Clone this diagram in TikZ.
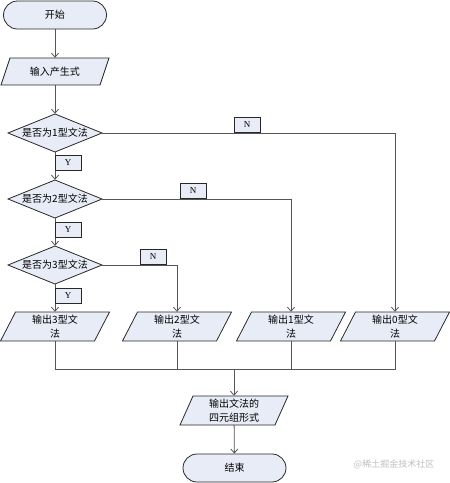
\documentclass[tikz,border=0pt]{standalone}
\usepackage{fontspec}
\setmainfont{Liberation Serif}
\newfontfamily\cjk{Noto Sans CJK SC}
\usetikzlibrary{arrows.meta}
\definecolor{boxfill}{RGB}{232,236,246}
\definecolor{lncol}{RGB}{85,85,85}
\definecolor{bdcol}{RGB}{40,40,40}
\tikzset{
  shapebox/.style={draw=bdcol, fill=boxfill, line width=0.8pt},
  txt/.style={inner sep=0pt, align=center, font=\cjk\fontsize{10}{14}\selectfont},
  term/.style={shapebox, minimum width=103pt, minimum height=28pt, rounded corners=14pt, inner sep=0pt, font=\cjk\fontsize{10}{14}\selectfont},
  ynbox/.style={draw=bdcol, fill=boxfill, line width=0.8pt, minimum width=26pt, minimum height=15pt, inner sep=0pt, font=\rmfamily\fontsize{9}{10}\selectfont},
  conn/.style={draw=lncol, line width=0.8pt},
  arr/.style={conn, -{Straight Barb[length=4pt,width=7pt]}},
  wmark/.style={font=\cjk\fontsize{9}{10}\selectfont, text=black!25, inner sep=0pt}
}
% #1 name, #2 cx, #3 cy, #4 edge width, #5 height, #6 slant, #7 text
\newcommand\parabox[7]{%
  \draw[shapebox] ({#2-#4/2+#6/2},{#3-#5/2}) -- ++(#4,0) -- ++(-#6,#5) -- ++(-#4,0) -- cycle;
  \node[txt, minimum width=#4pt, minimum height=#5pt] (#1) at (#2,#3) {#7};
}
% #1 name, #2 cx, #3 cy, #4 w, #5 h, #6 text
\newcommand\diabox[6]{%
  \draw[shapebox] ({#2-#4/2},#3) -- ({#2},{#3-#5/2}) -- ({#2+#4/2},#3) -- ({#2},{#3+#5/2}) -- cycle;
  \node[txt, minimum width=#4pt, minimum height=#5pt] (#1) at (#2,#3) {#6};
}
\begin{document}
\begin{tikzpicture}[x=1pt, y=-1pt]
\useasboundingbox (0,0) rectangle (450,483);
\node[term] (start) at (55,15) {开始};
\parabox{input}{55}{71.5}{99}{27}{9}{输入产生式}
\diabox{d1}{55}{133}{94}{38}{是否为1型文法}
\diabox{d2}{55}{199}{94}{38}{是否为2型文法}
\diabox{d3}{55}{265}{94}{38}{是否为3型文法}
\parabox{o3}{55}{326.5}{94}{29}{15}{输出3型文\\法}
\parabox{o2}{177}{326.5}{94}{29}{15}{输出2型文\\法}
\parabox{o1}{291}{326.5}{94}{29}{15}{输出1型文\\法}
\parabox{o0}{395}{326.5}{94}{29}{15}{输出0型文\\法}
\parabox{fin}{234}{410.5}{95}{29}{13}{输出文法的\\四元组形式}
\node[term] (end) at (234.5,468) {结束};
\coordinate (j) at (234,369);

\draw[arr] (start) -- (input);
\draw[arr] (input) -- (d1);
\draw[arr] (d1) -- (d2);
\draw[arr] (d2) -- (d3);
\draw[arr] (d3) -- (o3);
\draw[arr] (d1.east) -| (o0.north);
\draw[arr] (d2.east) -| (o1.north);
\draw[arr] (d3.east) -| (o2.north);
\draw[conn] (o3.south) |- (j);
\draw[conn] (o0.south) |- (j);
\draw[conn] (o2.south) -- (o2.south |- j);
\draw[conn] (o1.south) -- (o1.south |- j);
\draw[arr] (j) -- (fin);
\draw[arr] (fin) -- (end);

\node[ynbox] (y1) at (68,163) {Y};
\node[ynbox] (y2) at (68,229.5) {Y};
\node[ynbox] (y3) at (68,295.5) {Y};
\node[ynbox] (n1) at (247,125) {N};
\node[ynbox] (n2) at (193,191) {N};
\node[ynbox] (n3) at (153,257) {N};

\node[wmark] (wm) at (394,464) {@稀土掘金技术社区};
\end{tikzpicture}
\end{document}
